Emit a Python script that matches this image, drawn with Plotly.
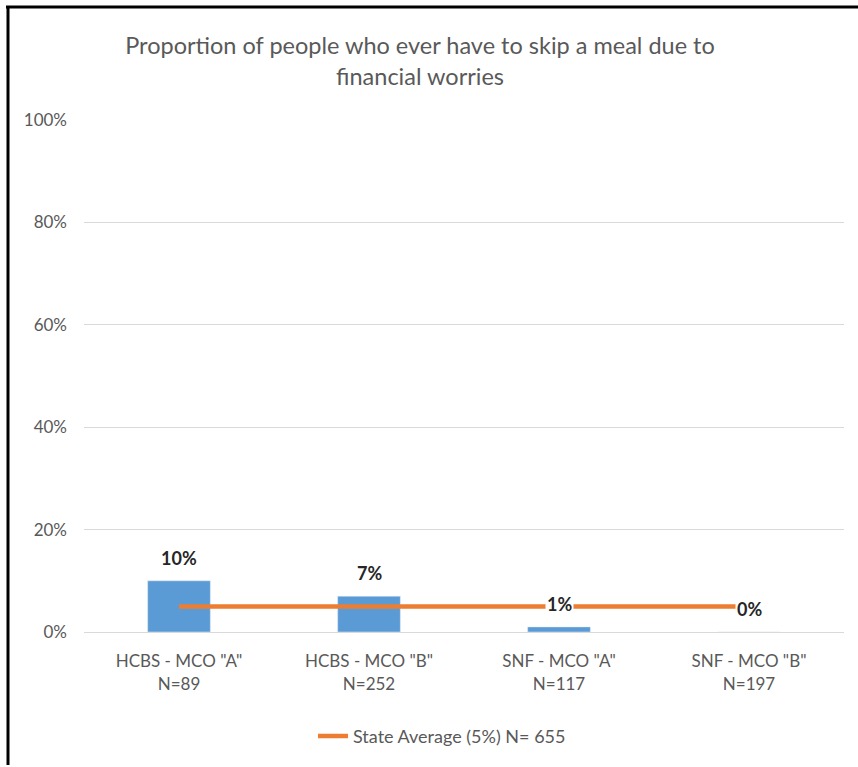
import plotly.graph_objects as go

categories = ['HCBS - MCO "A"<br>N=89', 'HCBS - MCO "B"<br>N=252',
              'SNF - MCO "A"<br>N=117', 'SNF - MCO "B"<br>N=197']
values = [0.10, 0.07, 0.01, 0.00]
state_avg = [0.05, 0.05, 0.05, 0.05]
labels = ["10%", "7%", "1%", "0%"]
title = "Proportion of people who ever have to skip a meal due to<br>financial worries"
legend_name = "State Average (5%) N= 655"

FONT = "Lato, Liberation Sans, sans-serif"
W, H = 858, 767
ml, mr, mt, mb = 84, 14, 120, 131
pw, ph = W - ml - mr, H - mt - mb

fig = go.Figure()
fig.add_trace(go.Bar(x=categories, y=values, marker_color="#5B9BD5",
                     width=0.33, showlegend=False, hoverinfo="skip"))
fig.add_trace(go.Scatter(x=categories, y=state_avg, mode="lines",
                         line=dict(color="#ED7D31", width=4.5),
                         name=legend_name))

for c, v, t in zip(categories, values, labels):
    fig.add_annotation(x=c, y=v, text="<b>%s</b>" % t, showarrow=False,
                       yshift=23, bgcolor="white", borderpad=1,
                       font=dict(family=FONT, size=18, color="#262626"))

def px_x(p):
    return (p - ml) / pw

def px_y(p):
    return (H - mb - p) / ph

# border (top and left)
fig.add_shape(type="line", xref="paper", yref="paper",
              x0=px_x(6), x1=px_x(860), y0=px_y(6), y1=px_y(6),
              line=dict(color="black", width=3))
fig.add_shape(type="line", xref="paper", yref="paper",
              x0=px_x(8), x1=px_x(8), y0=px_y(5), y1=px_y(770),
              line=dict(color="black", width=3))

fig.update_layout(
    width=W, height=H,
    margin=dict(l=ml, r=mr, t=mt, b=mb),
    paper_bgcolor="white", plot_bgcolor="white",
    font=dict(family=FONT, color="#595959"),
    title=dict(text=title, x=px_x(420), xref="paper", xanchor="center",
               y=1 - 54 / H, yref="container", yanchor="top",
               font=dict(family=FONT, size=23.5, color="#595959")),
    yaxis=dict(range=[0, 1], dtick=0.2, tickformat=".0%",
               gridcolor="#D9D9D9", gridwidth=1, zeroline=False,
               showline=False, tickfont=dict(size=17, color="#595959"),
               ticklabelstandoff=16, fixedrange=True),
    xaxis=dict(showline=True, linecolor="#D9D9D9", linewidth=1,
               tickfont=dict(size=17, color="#595959"),
               ticklabelstandoff=14, showgrid=False),
    legend=dict(orientation="h", x=px_x(442), xanchor="center",
                y=px_y(741), yanchor="middle",
                font=dict(size=18, color="#595959")),
    showlegend=True,
)

fig.write_html("out.html", config={"displayModeBar": False},
               post_script="document.body.style.margin='0';")
